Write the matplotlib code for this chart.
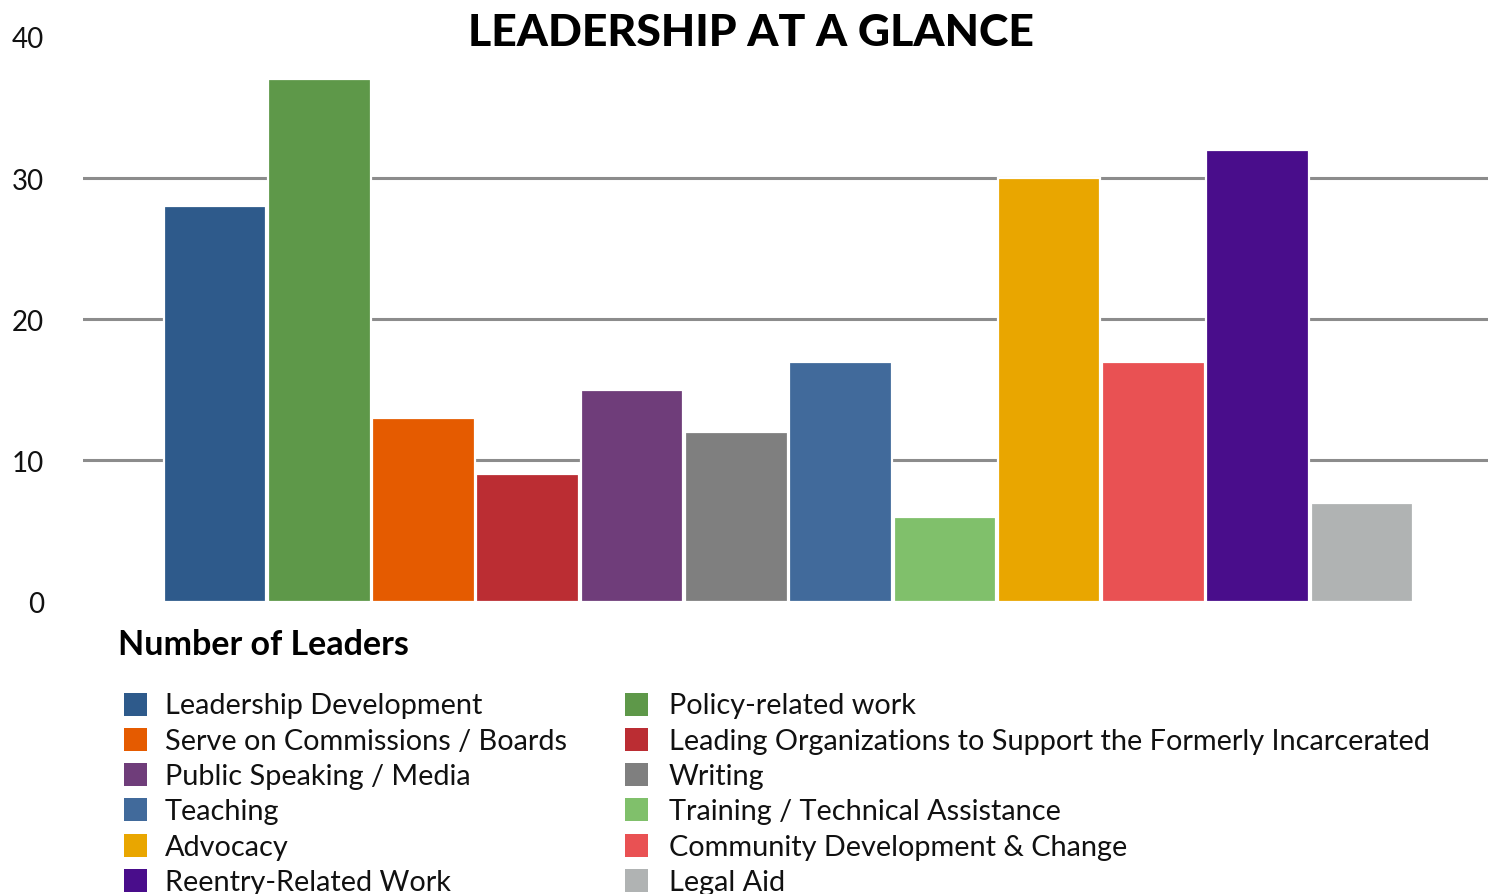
import matplotlib
matplotlib.use("Agg")
import matplotlib.pyplot as plt
from matplotlib.patches import Rectangle

categories = ["Leadership Development", "Policy-related work",
              "Serve on Commissions / Boards",
              "Leading Organizations to Support the Formerly Incarcerated",
              "Public Speaking / Media", "Writing", "Teaching",
              "Training / Technical Assistance", "Advocacy",
              "Community Development & Change", "Reentry-Related Work", "Legal Aid"]
values = [28, 37, 13, 9, 15, 12, 17, 6, 30, 17, 32, 7]
colors = ["#2E5A8B", "#5E9849", "#E55B00", "#BB2D33", "#6F3D7A", "#7F7F7F",
          "#416A9B", "#80C06B", "#E9A600", "#E95153", "#490D8B", "#B0B3B3"]
yticks = [0, 10, 20, 30, 40]

plt.rcParams["font.family"] = ["Lato", "DejaVu Sans"]

W, H = 1495, 895
fig = plt.figure(figsize=(W / 100, H / 100), dpi=100)
fig.patch.set_facecolor("white")
# axes: left 83px, right 1488px, top 38px, bottom 602px
ax = fig.add_axes([83 / W, 1 - 602.5 / H, (1488 - 83) / W, (602.5 - 38) / H])

x = list(range(len(values)))
ax.bar(x, values, width=0.985, color=colors, edgecolor="white", linewidth=1.6, zorder=3)
ax.set_xlim(-1.267, 12.21)
ax.set_ylim(0, 40)
ax.set_yticks(yticks)
ax.set_yticklabels([str(t) for t in yticks], fontsize=20, color="#111111")
ax.tick_params(axis="y", length=0, pad=28)
ax.set_xticks([])
for t in yticks[1:-1]:
    ax.axhline(t, color="#8C8C8C", linewidth=2.2, zorder=1)
for s in ax.spines.values():
    s.set_visible(False)

fig.text(751 / W, 1 - 33 / H, "LEADERSHIP AT A GLANCE", ha="center", va="center",
         fontsize=32, fontweight="black", color="#000000")
fig.text(118 / W, 1 - 645 / H, "Number of Leaders", ha="left", va="center",
         fontsize=24.5, fontweight="bold", color="#000000")

# legend laid out row by row, two columns
row_y0, row_dy = 705, 35.3
col_sq = [124, 625]
col_tx = [165, 669]
for i, (lab, col) in enumerate(zip(categories, colors)):
    r, c = divmod(i, 2)
    yc = row_y0 + r * row_dy
    fig.patches.append(Rectangle((col_sq[c] / W, 1 - (yc + 11.5) / H), 23 / W, 23 / H,
                                 transform=fig.transFigure, facecolor=col,
                                 edgecolor="none"))
    fig.text(col_tx[c] / W, 1 - (yc + 1.5) / H, lab, ha="left", va="center",
             fontsize=20.8, color="#111111")

fig.savefig("out.png", dpi=100)
